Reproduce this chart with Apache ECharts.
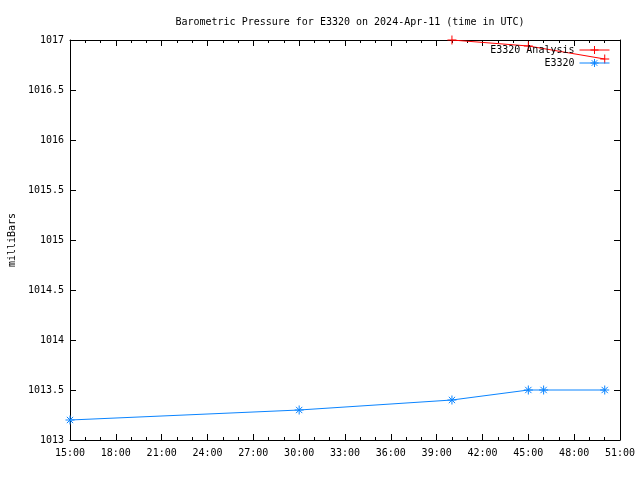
<!DOCTYPE html>
<html><head><meta charset="utf-8">
<script src="https://cdn.jsdelivr.net/npm/echarts@6/dist/echarts.min.js"></script>
<style>html,body{margin:0;padding:0;background:#fff}#c{width:640px;height:480px}</style>
</head><body><div id="c"></div>
<script>
// times in hours from 00:00 on 2024-Apr-11 (UTC)
const obsHours = [15, 30, 40, 45, 46, 50];
const obsValues = [1013.2, 1013.3, 1013.4, 1013.5, 1013.5, 1013.5];
const anaHours = [40, 45, 50];
const anaValues = [1017.0, 1016.94, 1016.81];
const xTickStart = 15, xTickEnd = 51, xTickStep = 3;
const yMin = 1013, yMax = 1017, yStep = 0.5;
const titleText = 'Barometric Pressure for E3320 on 2024-Apr-11 (time in UTC)';
const yName = 'milliBars';
const seriesNames = ['E3320 Analysis', 'E3320'];

const FONT = 'DejaVu Sans Mono';
const plus = 'path://M0,5L10,5M5,0L5,10';
const star = 'path://M0,5L10,5M5,0L5,10M1.5,1.5L8.5,8.5M1.5,8.5L8.5,1.5';
const fmtX = v => String(v) + ':00';
const RED = '#ff0000', BLUE = '#0a84ff';

const chart = echarts.init(document.getElementById('c'), null, {renderer: 'canvas'});
const axisCommon = {
  axisLine: {show: true, lineStyle: {color: '#000', width: 1}},
  splitLine: {show: false}
};
const legendCommon = {orient: 'vertical', align: 'right', right: 30,
  itemWidth: 30, itemHeight: 10, itemGap: 0, padding: 0,
  lineStyle: {width: 1},
  itemStyle: {borderWidth: 1},
  textStyle: {fontFamily: FONT, fontSize: 10, color: '#000'}};
chart.setOption({
  animation: false,
  backgroundColor: '#fff',
  title: {
    text: titleText, left: 345, top: 12, textAlign: 'center',
    textStyle: {fontFamily: FONT, fontSize: 10, fontWeight: 'normal', color: '#000'}
  },
  legend: [
    Object.assign({data: [seriesNames[0]], top: 45}, legendCommon),
    Object.assign({data: [seriesNames[1]], top: 58}, legendCommon)
  ],
  grid: {left: 70, right: 20, top: 40, bottom: 40, containLabel: false, outerBoundsMode: 'none'},
  xAxis: [
    Object.assign({type: 'value', min: xTickStart, max: xTickEnd, interval: xTickStep, position: 'bottom',
      axisTick: {show: true, inside: true, length: 6, lineStyle: {color: '#000'}},
      minorTick: {show: true, splitNumber: 3, length: 3, lineStyle: {color: '#000'}},
      axisLabel: {formatter: fmtX, fontFamily: FONT, fontSize: 10, color: '#000', margin: 8}
    }, axisCommon),
    Object.assign({type: 'value', min: xTickStart, max: xTickEnd, interval: xTickStep, position: 'top',
      axisTick: {show: true, inside: true, length: 6, lineStyle: {color: '#000'}},
      minorTick: {show: true, splitNumber: 3, length: 3, lineStyle: {color: '#000'}},
      axisLabel: {show: false}
    }, axisCommon)
  ],
  yAxis: [
    Object.assign({type: 'value', min: yMin, max: yMax, interval: yStep, position: 'left',
      name: yName, nameLocation: 'middle', nameRotate: 90, nameGap: 53,
      nameTextStyle: {fontFamily: FONT, fontSize: 10, color: '#000'},
      axisTick: {show: true, inside: true, length: 6, lineStyle: {color: '#000'}},
      axisLabel: {formatter: v => String(v), fontFamily: FONT, fontSize: 10, color: '#000', margin: 6}
    }, axisCommon),
    Object.assign({type: 'value', min: yMin, max: yMax, interval: yStep, position: 'right',
      axisTick: {show: true, inside: true, length: 6, lineStyle: {color: '#000'}},
      axisLabel: {show: false}
    }, axisCommon)
  ],
  series: [
    {name: seriesNames[0], type: 'line', xAxisIndex: 0, yAxisIndex: 0,
     data: anaHours.map((h, i) => [h, anaValues[i]]),
     symbol: plus, symbolSize: 9, showSymbol: true,
     lineStyle: {color: RED, width: 1},
     itemStyle: {color: 'rgba(0,0,0,0)', borderColor: RED, borderWidth: 1},
     emphasis: {disabled: true}},
    {name: seriesNames[1], type: 'line', xAxisIndex: 0, yAxisIndex: 0,
     data: obsHours.map((h, i) => [h, obsValues[i]]),
     symbol: star, symbolSize: 9, showSymbol: true,
     lineStyle: {color: BLUE, width: 1},
     itemStyle: {color: 'rgba(0,0,0,0)', borderColor: BLUE, borderWidth: 1},
     emphasis: {disabled: true}}
  ]
});
</script></body></html>
